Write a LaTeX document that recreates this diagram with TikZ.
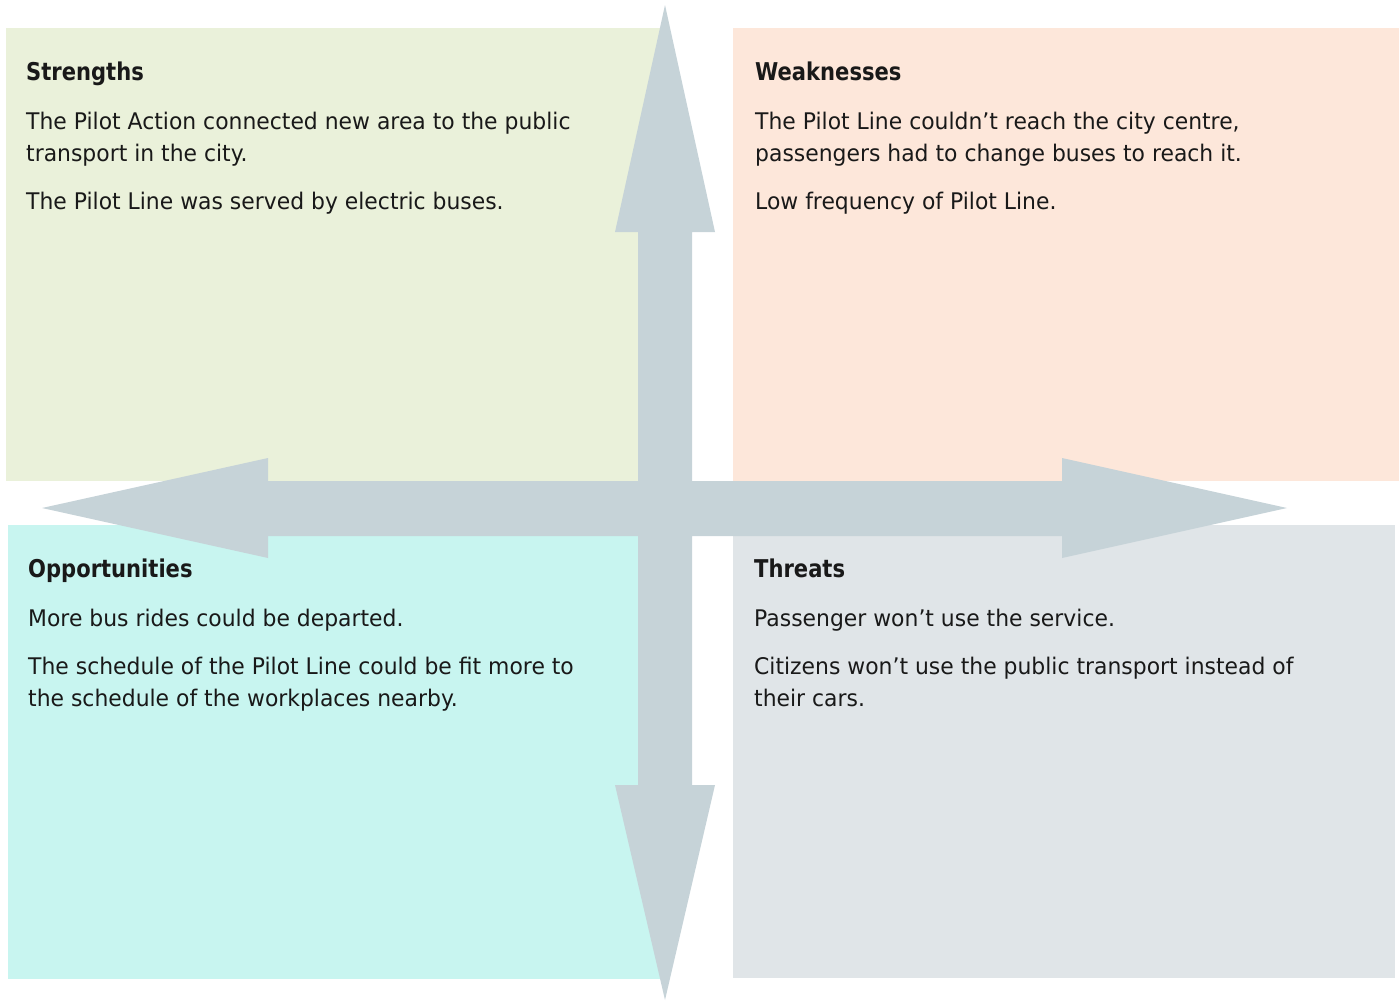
\documentclass[tikz,border=0pt]{standalone}
\usepackage{fontspec}
\setmainfont{DejaVu Sans}
\newfontfamily\bodyfont[FakeStretch=0.956]{DejaVu Sans}
\newfontfamily\titlefont[FakeStretch=0.86]{DejaVu Sans Bold}
\definecolor{sgreen}{HTML}{EAF1DA}
\definecolor{wpeach}{HTML}{FDE7DA}
\definecolor{ocyan}{HTML}{C8F5F0}
\definecolor{tgray}{HTML}{E0E5E8}
\definecolor{arrowgray}{HTML}{C6D3D8}
\tikzset{
  title/.style={anchor=base west, inner sep=0pt, font=\titlefont\fontsize{24.5}{28}\selectfont, text=black!90},
  body/.style={anchor=base west, inner sep=0pt, font=\bodyfont\fontsize{22.9}{32}\selectfont, text=black!90},
}
\begin{document}
\begin{tikzpicture}[x=1pt,y=-1pt]
\useasboundingbox (0,0) rectangle (1399,1001);
% quadrants
\fill[sgreen] (6,28) rectangle (660,481);
\fill[wpeach] (733,28) rectangle (1399,481);
\fill[ocyan] (8,525) rectangle (660,979);
\fill[tgray] (733,525) rectangle (1395,978);
% cross arrow
\fill[arrowgray] (665,5) -- (715,232) -- (692,232) -- (692,481) -- (1062,481) -- (1062,458)
  -- (1287,508) -- (1062,558) -- (1062,536) -- (692,536) -- (692,785) -- (715,785)
  -- (665,1000) -- (615,785) -- (638,785) -- (638,536) -- (268,536) -- (268,558)
  -- (42,508) -- (268,458) -- (268,481) -- (638,481) -- (638,232) -- (615,232) -- cycle;
% Strengths
\node[title] (st) at (26,80) {Strengths};
\node[body] (s1a) at (26,129) {The Pilot Action connected new area to the public};
\node[body] (s1b) at (26,161) {transport in the city.};
\node[body] (s2) at (26,209) {The Pilot Line was served by electric buses.};
% Weaknesses
\node[title] (wt) at (755,80) {Weaknesses};
\node[body] (w1a) at (755,129) {The Pilot Line couldn’t reach the city centre,};
\node[body] (w1b) at (755,161) {passengers had to change buses to reach it.};
\node[body] (w2) at (755,209) {Low frequency of Pilot Line.};
% Opportunities
\node[title] (ot) at (28,577) {Opportunities};
\node[body] (o1) at (28,626) {More bus rides could be departed.};
\node[body] (o2a) at (28,674) {The schedule of the Pilot Line could be fit more to};
\node[body] (o2b) at (28,706) {the schedule of the workplaces nearby.};
% Threats
\node[title] (tt) at (754,577) {Threats};
\node[body] (t1) at (754,626) {Passenger won’t use the service.};
\node[body] (t2a) at (754,674) {Citizens won’t use the public transport instead of};
\node[body] (t2b) at (754,706) {their cars.};
\end{tikzpicture}
\end{document}
